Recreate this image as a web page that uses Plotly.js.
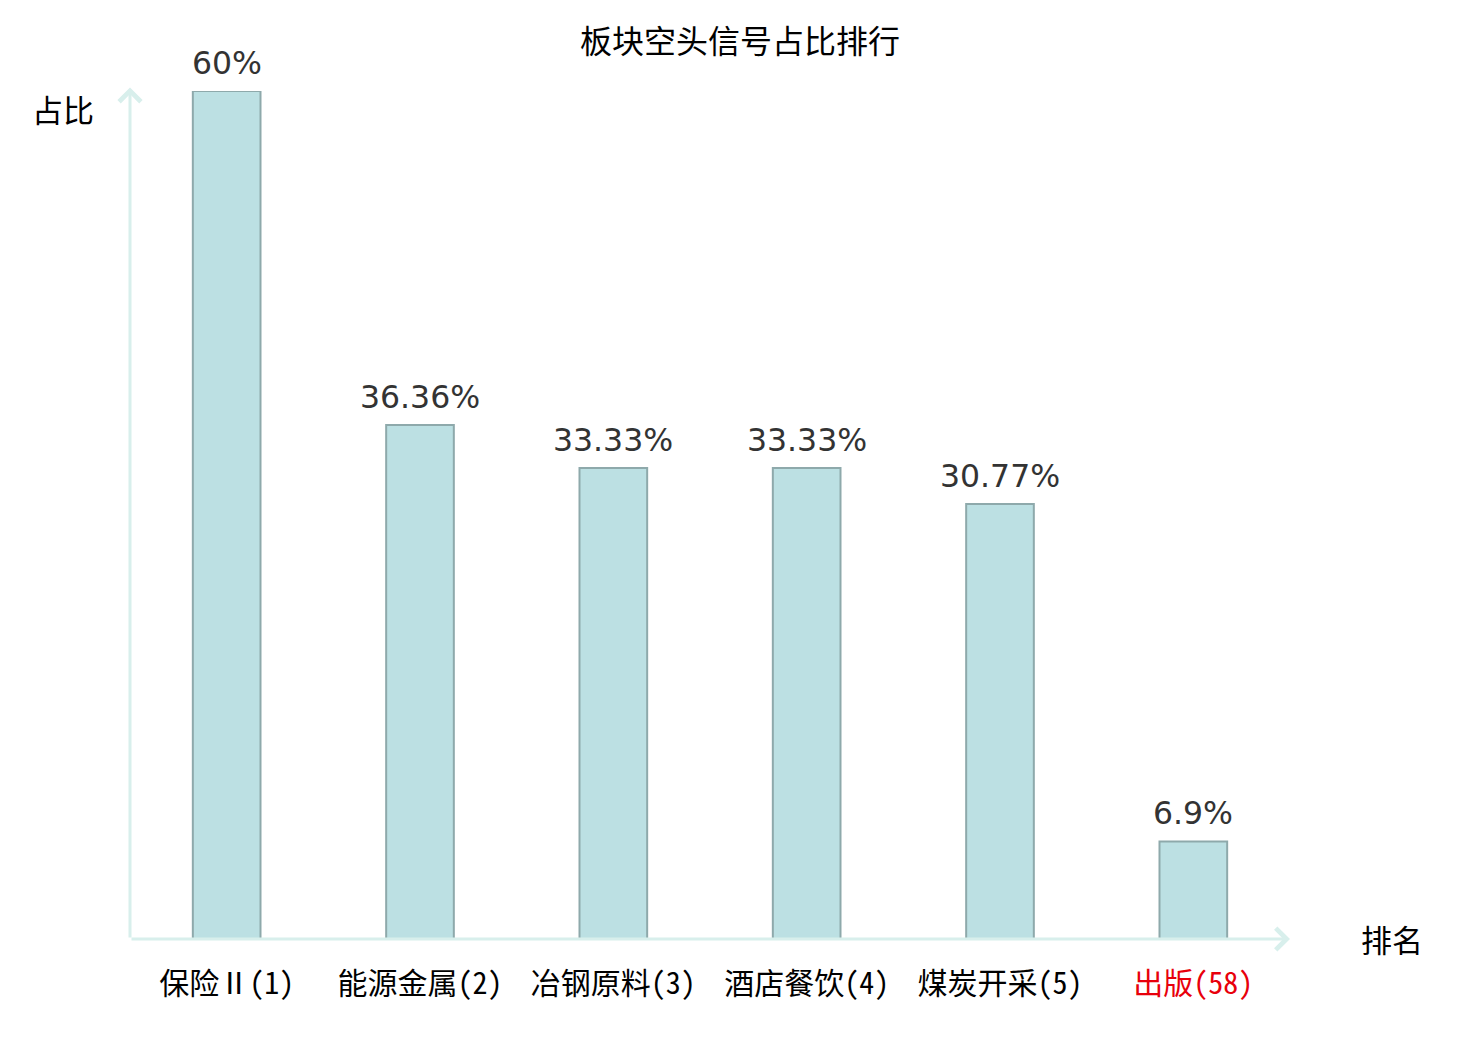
<!DOCTYPE html>
<html>
<head>
<meta charset="utf-8">
<script src="https://cdn.plot.ly/plotly-3.0.1.min.js"></script>
<style>
  html, body { margin: 0; padding: 0; background: #fff; }
  #chart { width: 1480px; height: 1040px; }
</style>
</head>
<body>
<div id="chart"></div>
<script>
// sectors ranked by share of short signals
var sectors = ['保险Ⅱ', '能源金属', '冶钢原料', '酒店餐饮', '煤炭开采', '出版'];
var ranks = [1, 2, 3, 4, 5, 58];
var shares = [60, 36.36, 33.33, 33.33, 30.77, 6.9];
var shareLabels = ['60%', '36.36%', '33.33%', '33.33%', '30.77%', '6.9%'];

var axisColor = '#d8efec';
var cjk = '"Noto Sans CJK SC", "DejaVu Sans", sans-serif';
var cjkMono = '"Noto Sans Mono CJK SC", "Noto Sans CJK SC", sans-serif';

var tickText = sectors.map(function (s, i) {
    var t = s + '(' + ranks[i] + ')';
    // the highlighted sector is the last one
    if (i === sectors.length - 1) t = '<span style="color:#e8000b">' + t + '</span>';
    return t;
});

var trace = {
    type: 'bar',
    x: sectors,
    y: shares,
    width: 0.35,
    marker: {
        color: '#bce0e3',
        line: { color: '#8ea9ab', width: 2 }
    },
    hoverinfo: 'none'
};

var annotations = [];
for (var i = 0; i < sectors.length; i++) {
    annotations.push({
        x: sectors[i], y: shares[i], xref: 'x', yref: 'y',
        text: shareLabels[i], showarrow: false,
        yanchor: 'bottom', yshift: 8,
        font: { family: '"DejaVu Sans", sans-serif', size: 31.5, color: '#333333' }
    });
}

// axis arrows
annotations.push({
    x: 5.5, y: 0, ax: -0.5, ay: 0, xref: 'x', yref: 'y', axref: 'x', ayref: 'y',
    text: '', showarrow: true, arrowhead: 4, arrowsize: 1.4, arrowwidth: 3, arrowcolor: axisColor
});
annotations.push({
    x: -0.5, y: 60.25, ax: -0.5, ay: 0, xref: 'x', yref: 'y', axref: 'x', ayref: 'y',
    text: '', showarrow: true, arrowhead: 4, arrowsize: 1.4, arrowwidth: 3, arrowcolor: axisColor
});

// axis names
annotations.push({
    x: -0.058, y: 0.979, xref: 'paper', yref: 'paper', text: '占比', showarrow: false,
    xanchor: 'center', yanchor: 'middle',
    font: { family: cjk, size: 31, color: '#000' }
});
annotations.push({
    x: 1.088, y: 0.001, xref: 'paper', yref: 'paper', text: '排名', showarrow: false,
    xanchor: 'center', yanchor: 'middle',
    font: { family: cjk, size: 31, color: '#000' }
});

var layout = {
    width: 1480,
    height: 1040,
    margin: { l: 130, r: 190, t: 91, b: 101 },
    paper_bgcolor: '#ffffff',
    plot_bgcolor: '#ffffff',
    showlegend: false,
    title: {
        text: '板块空头信号占比排行',
        x: 0.5, xanchor: 'center',
        y: 0.96, yref: 'container', yanchor: 'middle',
        font: { family: cjk, size: 32, color: '#000' }
    },
    xaxis: {
        type: 'category',
        range: [-0.5, 5.5],
        tickmode: 'array',
        tickvals: sectors,
        ticktext: tickText,
        ticks: '',
        ticklabelstandoff: 24,
        showline: false,
        showgrid: false,
        zeroline: false,
        tickfont: { family: cjkMono, size: 30, color: '#000' }
    },
    yaxis: {
        range: [0, 60],
        showticklabels: false,
        ticks: '',
        showline: false,
        showgrid: false,
        zeroline: false
    },
    annotations: annotations
};

Plotly.newPlot('chart', [trace], layout, { displayModeBar: false, staticPlot: true });
</script>
</body>
</html>
